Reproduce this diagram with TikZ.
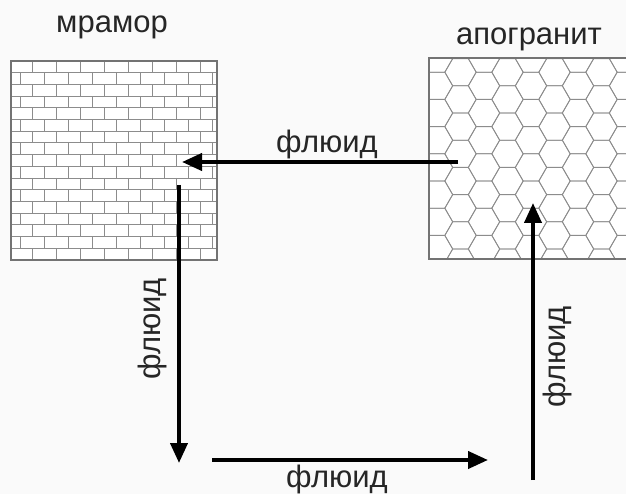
\documentclass[tikz,border=0pt]{standalone}
\usepackage{fontspec}
\setmainfont{Liberation Sans}
\usetikzlibrary{arrows.meta}

\begin{document}
\begin{tikzpicture}[x=1pt,y=-1pt,>={Triangle[length=20pt,width=17pt]},
  lbl/.style={font=\fontsize{31}{36}\selectfont,text=black!85,inner sep=0pt},
  flow/.style={->,line width=4pt},
  pat/.style={draw=black!45,line width=0.8pt}]
\useasboundingbox[fill=black!2] (0,0) rectangle (626,494);
% marble: brick pattern
\begin{scope}
\clip (11,61) rectangle (217,260);
\fill[white] (11,61) rectangle (217,260);
\foreach \r in {0,...,16} {
  \pgfmathsetmacro\yy{61+\r*11.7}
  \pgfmathsetmacro\xo{mod(\r,2)==0 ? 8 : 20}
  \draw[pat] (11,\yy) -- (217,\yy);
  \foreach \k in {0,...,9}
    \draw[pat] ({\xo+\k*24},\yy) -- ++(0,11.7);
}
\end{scope}
\draw[draw=black!55,line width=1.3pt] (11,61) rectangle (217,260);
% apogranite: hexagon pattern
\begin{scope}
\clip (429,58) rectangle (640,259);
\fill[white] (429,58) rectangle (640,259);
\foreach \i in {0,...,9} {
  \foreach \j in {-1,...,8} {
    \pgfmathsetmacro\cx{437+\i*23.5}
    \pgfmathsetmacro\cy{58.6+\j*27.2+mod(\i,2)*13.6}
    \draw[pat] (\cx,\cy) +(0:15.7) -- +(60:15.7) -- +(120:15.7) -- +(180:15.7)
      -- +(240:15.7) -- +(300:15.7) -- cycle;
  }
}
\end{scope}
\draw[draw=black!55,line width=1.3pt] (640,58) -- (429,58) -- (429,259) -- (640,259);
% titles
\node[lbl,anchor=base] (marble) at (112,33) {мрамор};
\node[lbl,anchor=base] (granite) at (529,45) {апогранит};
% fluid paths
\coordinate (g1) at (458,162);
\coordinate (m1) at (182,162);
\coordinate (m2) at (179,185);
\coordinate (b1) at (179,463);
\coordinate (b2) at (212,460);
\coordinate (b3) at (488,460);
\coordinate (b4) at (533,480);
\coordinate (g2) at (533,203);
\draw[flow] (g1) -- (m1);
\draw[flow] (m2) -- (b1);
\draw[flow] (b2) -- (b3);
\draw[flow] (b4) -- (g2);
\node[lbl,anchor=base] (f1) at (327,153) {флюид};
\node[lbl,rotate=90] (f2) at (152,329) {флюид};
\node[lbl,anchor=base] (f3) at (337,487) {флюид};
\node[lbl,rotate=90] (f4) at (557,357) {флюид};
\end{tikzpicture}
\end{document}
